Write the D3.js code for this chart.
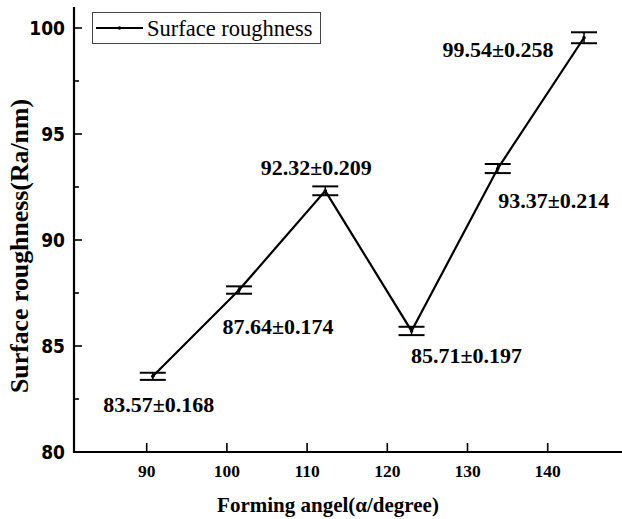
<!DOCTYPE html>
<html>
<head>
<meta charset="utf-8">
<script src="https://cdn.jsdelivr.net/npm/d3@7"></script>
<style>
  html, body { margin: 0; padding: 0; background: #fff; }
  svg { display: block; }
</style>
</head>
<body>
<svg id="chart" width="622" height="519"></svg>
<script>
// Forming angle (degrees) and measured surface roughness Ra (nm) with standard deviation
const angles = [90, 100, 110, 120, 130, 140];
const roughness = [83.57, 87.64, 92.32, 85.71, 93.37, 99.54];
const deviation = [0.168, 0.174, 0.209, 0.197, 0.214, 0.258];
const xTicks = [90, 100, 110, 120, 130, 140];
const yTicks = [80, 85, 90, 95, 100];
const yMinorTicks = [82.5, 87.5, 92.5, 97.5];

const SERIF = "'Liberation Serif', 'Times New Roman', 'DejaVu Serif', serif";
const NARROW = "'Liberation Sans Narrow', 'Arial Narrow', 'DejaVu Sans Condensed', sans-serif";

// offsets of each value label from its point (text centre x, baseline y)
const labelOffset = [[6, 36], [39, 44], [-9, -16], [55, 32], [56, 39], [-86, 19]];

const svg = d3.select("#chart");

// axis scale and the scale the series is plotted on
const xAxisScale = d3.scaleLinear().domain([90, 140]).range([146.7, 547.7]);
const xPlot = d3.scaleLinear().domain([90, 140]).range([152.8, 584]);
const y = d3.scaleLinear().domain([80, 100]).range([452, 28]);

const axisLeft = 74, axisBottom = 452, axisRight = 622, axisTop = 7;

// axes lines
const axisG = svg.append("g");
axisG.append("line")
  .attr("x1", axisLeft).attr("x2", axisRight)
  .attr("y1", axisBottom).attr("y2", axisBottom)
  .attr("stroke", "#000").attr("stroke-width", 2.2);
axisG.append("line")
  .attr("x1", axisLeft).attr("x2", axisLeft)
  .attr("y1", axisTop).attr("y2", axisBottom + 1)
  .attr("stroke", "#000").attr("stroke-width", 2.2);

// x ticks (inward) and labels
axisG.selectAll(".xt").data(xTicks).join("line")
  .attr("x1", d => xAxisScale(d)).attr("x2", d => xAxisScale(d))
  .attr("y1", axisBottom).attr("y2", axisBottom - 9)
  .attr("stroke", "#000").attr("stroke-width", 1.6);
axisG.selectAll(".xl").data(xTicks).join("text")
  .attr("font-family", SERIF)
  .attr("x", d => xAxisScale(d)).attr("y", 477)
  .attr("text-anchor", "middle")
  .attr("font-size", 17.5).attr("font-weight", "bold")
  .text(d => d);

// y ticks (inward) and labels
axisG.selectAll(".yt").data(yTicks).join("line")
  .attr("x1", axisLeft).attr("x2", axisLeft + 8)
  .attr("y1", d => y(d)).attr("y2", d => y(d))
  .attr("stroke", "#000").attr("stroke-width", 1.6);
axisG.selectAll(".ymt").data(yMinorTicks).join("line")
  .attr("x1", axisLeft).attr("x2", axisLeft + 5)
  .attr("y1", d => y(d)).attr("y2", d => y(d))
  .attr("stroke", "#000").attr("stroke-width", 1.6);
axisG.selectAll(".yl").data(yTicks).join("text")
  .attr("font-family", NARROW)
  .attr("x", 65).attr("y", d => y(d) + 7)
  .attr("text-anchor", "end")
  .attr("font-size", 19).attr("font-weight", "bold")
  .text(d => d);

// axis titles
svg.append("text")
  .attr("font-family", SERIF)
  .attr("x", 328).attr("y", 512)
  .attr("text-anchor", "middle")
  .attr("font-size", 21).attr("font-weight", "bold")
  .text("Forming angel(α/degree)");
svg.append("text")
  .attr("font-family", SERIF)
  .attr("transform", "translate(28,246) rotate(-90)")
  .attr("text-anchor", "middle")
  .attr("font-size", 25.8).attr("font-weight", "bold")
  .text("Surface roughness(Ra/nm)");

const data = angles.map((a, i) => ({ a, v: roughness[i], sd: deviation[i], off: labelOffset[i] }));

// series line
svg.append("path")
  .datum(data)
  .attr("fill", "none").attr("stroke", "#000").attr("stroke-width", 2.2)
  .attr("d", d3.line().x(d => xPlot(d.a)).y(d => y(d.v)));

// error bars
const eb = svg.append("g").selectAll("g").data(data).join("g");
eb.append("line")
  .attr("x1", d => xPlot(d.a)).attr("x2", d => xPlot(d.a))
  .attr("y1", d => y(d.v - d.sd)).attr("y2", d => y(d.v + d.sd))
  .attr("stroke", "#000").attr("stroke-width", 1.5);
eb.append("line")
  .attr("x1", d => xPlot(d.a) - 13).attr("x2", d => xPlot(d.a) + 13)
  .attr("y1", d => y(d.v + d.sd)).attr("y2", d => y(d.v + d.sd))
  .attr("stroke", "#000").attr("stroke-width", 2);
eb.append("line")
  .attr("x1", d => xPlot(d.a) - 13).attr("x2", d => xPlot(d.a) + 13)
  .attr("y1", d => y(d.v - d.sd)).attr("y2", d => y(d.v - d.sd))
  .attr("stroke", "#000").attr("stroke-width", 2);
eb.append("circle")
  .attr("cx", d => xPlot(d.a)).attr("cy", d => y(d.v)).attr("r", 1.8)
  .attr("fill", "#000");

// value labels
svg.append("g").selectAll("text").data(data).join("text")
  .attr("font-family", SERIF)
  .attr("x", d => xPlot(d.a) + d.off[0])
  .attr("y", d => y(d.v) + d.off[1])
  .attr("text-anchor", "middle")
  .attr("font-size", 22).attr("font-weight", "bold")
  .text(d => `${d.v.toFixed(2)}±${d.sd.toFixed(3)}`);

// legend
const lg = svg.append("g");
lg.append("rect")
  .attr("x", 92.5).attr("y", 12.5).attr("width", 228).attr("height", 31)
  .attr("fill", "#fff").attr("stroke", "#444").attr("stroke-width", 1);
lg.append("line")
  .attr("x1", 96).attr("x2", 143).attr("y1", 28).attr("y2", 28)
  .attr("stroke", "#000").attr("stroke-width", 2.2);
lg.append("circle").attr("cx", 119.5).attr("cy", 28).attr("r", 1.8).attr("fill", "#000");
lg.append("text")
  .attr("font-family", SERIF)
  .attr("x", 147).attr("y", 35.5)
  .attr("font-size", 22.5)
  .text("Surface roughness");
</script>
</body>
</html>
